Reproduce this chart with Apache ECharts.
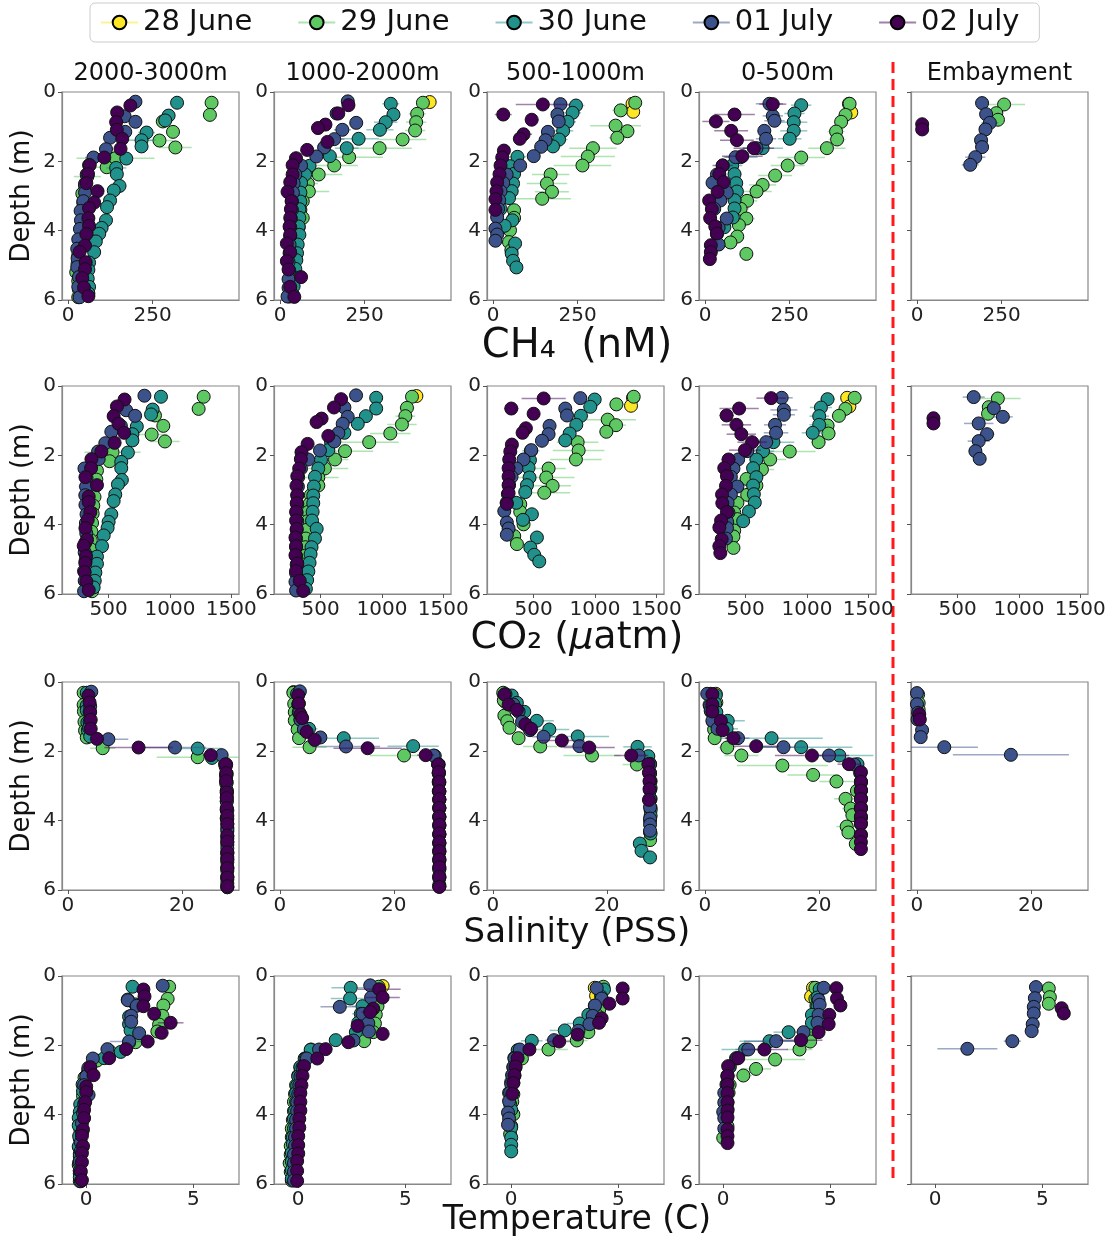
<!DOCTYPE html>
<html>
<head>
<meta charset="utf-8">
<script src="https://cdn.jsdelivr.net/npm/echarts@6/dist/echarts.min.js"></script>
<style>
html, body { margin: 0; padding: 0; background: #fff; }
#chart { width: 1109px; height: 1240px; }
</style>
</head>
<body>
<div id="chart"></div>
<script>
// ---- Labels, dates and ticks ----
const dates = ['28 June', '29 June', '30 June', '01 July', '02 July'];
const dateColors = ['#fde725', '#5ec962', '#21918c', '#3b528b', '#440154'];
const errColors = ['rgba(253,231,37,0.5)', 'rgba(94,201,98,0.5)', 'rgba(33,145,140,0.5)', 'rgba(59,82,139,0.5)', 'rgba(68,1,84,0.5)'];
const siteNames = ['2000-3000m', '1000-2000m', '500-1000m', '0-500m', 'Embayment'];
const depthTicks = [0, 2, 4, 6];
const ch4Ticks = [0, 250];
const co2Ticks = [500, 1000, 1500];
const salTicks = [0, 20];
const tempTicks = [0, 5];

// ---- 2000-3000m ----
const z2000_jun29_depth = [0.31,0.66,0.85,1.15,1.40,1.60,1.91,2.17,2.44,2.70,2.93,3.20,3.45,3.68,3.95,4.20,4.45,4.70,4.95,5.20,5.45,5.70,5.92];
const z2000_jun29_ch4 = [424,419,280,310,270,317,140,114,57,50,42,45,48,42,40,38,37,30,28,24,30,32,30];
const z2000_jun29_ch4Err = [8,20,22,15,40,48,115,30,40,15,12,10,10,10,8,8,8,8,6,6,6,6,6];
const z2000_jun29_co2 = [1275,1234,878,946,851,959,532,508,405,400,380,385,375,370,365,360,355,350,345,350,355,360,365];
const z2000_jun29_co2Err = [20,40,30,30,130,120,230,60,50,30,25,20,20,20,20,15,15,15,15,15,15,15,15];
const z2000_jun29_sal = [2.75,2.75,2.8,2.9,3.0,3.3,6.1,22.8,27.7,27.8,27.8,27.9,27.9,27.9,27.9,28.0,28.0,28.0,28.0,28.0,28.0,28.0,28.0];
const z2000_jun29_salErr = [0.2,0.2,0.2,0.2,0.2,0.3,2.2,7.2,0.5,0.3,0.2,0.2,0.2,0.2,0.2,0.2,0.2,0.2,0.2,0.2,0.2,0.2,0.2];
const z2000_jun29_temp = [3.87,3.8,3.6,3.56,3.4,3.32,2.3,1.1,0.5,0.15,-0.08,-0.1,-0.15,-0.2,-0.22,-0.25,-0.27,-0.3,-0.32,-0.3,-0.35,-0.3,-0.3];
const z2000_jun29_tempErr = [0.1,0.1,0.1,0.1,0.15,0.15,0.2,0.4,0.15,0.1,0.1,0.1,0.1,0.1,0.1,0.1,0.1,0.1,0.1,0.1,0.1,0.1,0.1];

const z2000_jun30_depth = [0.31,0.68,0.82,1.17,1.39,1.57,1.92,2.19,2.37,2.71,2.84,3.13,3.32,3.70,3.92,4.09,4.31,4.62,4.92,5.13,5.38,5.62,5.81];
const z2000_jun30_ch4 = [322,297,287,232,217,217,172,142,144,152,135,124,115,112,99,92,82,77,62,60,58,62,60];
const z2000_jun30_ch4Err = [6,20,22,25,42,20,12,30,10,10,10,10,10,8,8,8,8,8,6,6,6,6,6];
const z2000_jun30_co2 = [927,859,846,730,694,694,657,603,603,608,576,554,541,522,500,492,460,446,405,405,392,387,378];
const z2000_jun30_co2Err = [20,45,30,30,40,30,60,25,20,20,20,20,15,15,15,15,15,15,15,15,15,15,15];
const z2000_jun30_sal = [3.3,3.3,3.3,3.4,3.5,3.9,22.8,25.3,27.6,27.8,27.8,27.9,27.9,27.9,27.9,28.0,28.0,28.0,28.0,28.0,28.0,28.0,28.0];
const z2000_jun30_salErr = [0.2,0.2,0.2,0.2,0.2,0.3,4.2,1.0,0.3,0.2,0.2,0.2,0.2,0.2,0.2,0.2,0.2,0.2,0.2,0.2,0.2,0.2,0.2];
const z2000_jun30_temp = [2.16,1.94,2.3,2.0,2.0,2.07,2.0,1.61,0.84,0.1,0.05,-0.17,-0.15,-0.28,-0.3,-0.35,-0.35,-0.33,-0.35,-0.3,-0.33,-0.3,-0.3];
const z2000_jun30_tempErr = [0.1,0.1,0.1,0.1,0.1,0.1,0.2,0.2,0.1,0.1,0.1,0.1,0.1,0.1,0.1,0.1,0.1,0.1,0.1,0.1,0.1,0.1,0.1];

const z2000_jul01_depth = [0.28,0.70,0.86,1.15,1.32,1.65,1.89,2.11,2.38,2.65,2.90,3.15,3.43,3.70,3.95,4.25,4.52,4.80,5.05,5.34,5.62,5.92];
const z2000_jul01_ch4 = [199,167,199,169,124,112,75,62,55,50,50,45,37,38,35,30,27,28,27,32,30,34];
const z2000_jul01_ch4Err = [6,10,10,10,10,20,25,10,8,8,8,8,6,6,6,6,6,6,6,6,6,6];
const z2000_jul01_co2 = [792,643,716,600,522,473,414,419,303,320,316,310,311,320,315,318,310,305,312,300,305,300];
const z2000_jul01_co2Err = [20,20,20,20,50,40,20,20,20,20,60,20,20,20,20,15,15,15,15,15,15,15];
const z2000_jul01_sal = [4.1,3.9,3.8,3.8,3.7,7.1,18.8,27.0,27.8,27.9,27.9,27.9,27.9,28.0,28.0,28.0,28.0,28.0,28.0,28.0,28.0,28.0];
const z2000_jul01_salErr = [0.2,0.2,0.2,0.2,0.2,3.5,5.5,0.5,0.3,0.2,0.2,0.2,0.2,0.2,0.2,0.2,0.2,0.2,0.2,0.2,0.2,0.2];
const z2000_jul01_temp = [3.57,1.94,2.36,2.1,2.10,2.47,2.0,0.99,0.31,0.1,0.0,-0.1,0.11,-0.1,-0.15,-0.2,-0.2,-0.25,-0.25,-0.3,-0.3,-0.25];
const z2000_jul01_tempErr = [0.1,0.1,0.1,0.1,0.1,0.1,0.9,0.3,0.1,0.1,0.1,0.1,0.1,0.1,0.1,0.1,0.1,0.1,0.1,0.1,0.1,0.1];

const z2000_jul02_depth = [0.39,0.59,0.87,1.09,1.35,1.64,1.89,2.11,2.37,2.63,2.86,3.19,3.35,3.64,3.86,4.10,4.43,4.61,4.91,5.11,5.37,5.64,5.89];
const z2000_jul02_ch4 = [184,145,142,144,160,155,107,64,59,54,87,77,62,60,62,54,50,34,52,50,42,47,60];
const z2000_jul02_ch4Err = [8,8,8,10,12,15,15,10,8,8,15,15,10,8,8,8,8,6,8,8,6,8,10];
const z2000_jul02_co2 = [630,568,541,581,627,549,441,360,357,311,405,338,338,351,330,311,324,297,316,310,305,319,338];
const z2000_jul02_co2Err = [15,15,15,40,25,20,20,20,15,15,30,20,15,15,15,15,15,15,15,15,15,15,20];
const z2000_jul02_sal = [3.6,3.8,3.9,4.0,4.0,5.1,12.4,25.1,27.7,27.8,27.8,27.9,27.9,27.9,28.0,28.0,28.0,28.0,28.0,28.0,28.0,28.0,28.0];
const z2000_jul02_salErr = [0.2,0.2,0.2,0.2,0.2,0.5,6.0,1.0,0.3,0.2,0.2,0.2,0.2,0.2,0.2,0.2,0.2,0.2,0.2,0.2,0.2,0.2,0.2];
const z2000_jul02_temp = [2.67,2.72,2.67,3.17,3.94,3.52,2.87,1.86,1.07,0.19,0.34,0.0,0.0,-0.05,-0.1,-0.1,-0.15,-0.2,-0.15,-0.2,-0.2,-0.25,-0.2];
const z2000_jul02_tempErr = [0.1,0.1,0.1,0.15,0.6,0.3,0.2,0.3,0.2,0.1,0.1,0.1,0.1,0.1,0.1,0.1,0.1,0.1,0.1,0.1,0.1,0.1,0.1];

// ---- 1000-2000m ----
const z1000_jun28_depth = [0.29];
const z1000_jun28_ch4 = [442];
const z1000_jun28_ch4Err = [8];
const z1000_jun28_co2 = [1281];
const z1000_jun28_co2Err = [20];
const z1000_jun28_sal = [2.4];
const z1000_jun28_salErr = [0.2];
const z1000_jun28_temp = [3.94];
const z1000_jun28_tempErr = [0.1];

const z1000_jun29_depth = [0.31,0.63,0.87,1.11,1.37,1.62,1.88,2.12,2.38,2.64,2.87,3.15,3.40,3.63,3.90,4.15,4.40,4.65,4.90,5.15,5.40,5.65,5.90];
const z1000_jun29_ch4 = [422,405,402,399,362,294,204,160,114,82,85,67,60,67,55,50,45,40,38,36,35,30,28];
const z1000_jun29_ch4Err = [10,25,30,30,70,95,100,70,70,30,60,20,15,15,10,10,10,10,8,8,8,8,8];
const z1000_jun29_co2 = [1245,1204,1191,1163,1068,896,699,617,535,481,481,420,410,400,395,385,380,375,370,365,360,360,355];
const z1000_jun29_co2Err = [20,60,80,120,165,240,230,110,190,165,60,30,25,25,20,20,20,20,20,20,20,20,20];
const z1000_jun29_sal = [2.35,2.5,2.6,2.6,3.1,3.35,5.2,21.8,27.8,27.9,27.9,27.9,28.0,28.0,28.0,28.0,28.0,28.0,28.0,28.0,28.0,28.0,28.0];
const z1000_jun29_salErr = [0.2,0.2,0.2,0.2,0.3,0.3,3.0,6.0,0.5,0.2,0.2,0.2,0.2,0.2,0.2,0.2,0.2,0.2,0.2,0.2,0.2,0.2,0.2];
const z1000_jun29_temp = [3.75,3.6,3.7,3.62,3.58,3.5,3.08,0.6,0.3,0.1,0.0,-0.1,-0.15,-0.2,-0.2,-0.25,-0.3,-0.3,-0.35,-0.35,-0.4,-0.35,-0.3];
const z1000_jun29_tempErr = [0.2,0.2,0.2,0.2,0.3,0.3,0.3,0.2,0.1,0.1,0.1,0.1,0.1,0.1,0.1,0.1,0.1,0.1,0.1,0.1,0.1,0.1,0.1];

const z1000_jun30_depth = [0.34,0.65,0.87,1.09,1.35,1.62,1.85,2.13,2.38,2.62,2.90,3.16,3.38,3.63,3.88,4.12,4.40,4.65,4.85,5.10,5.35,5.60,5.85];
const z1000_jun30_ch4 = [327,335,312,295,232,197,147,87,74,62,60,60,57,57,55,57,52,50,48,45,42,40,38];
const z1000_jun30_ch4Err = [25,20,35,40,60,35,20,20,10,10,15,10,10,8,8,8,8,8,8,8,8,8,8];
const z1000_jun30_co2 = [953,953,869,803,694,585,563,503,481,454,445,440,440,435,430,468,454,426,418,410,400,390,380];
const z1000_jun30_co2Err = [20,40,45,40,50,40,30,40,30,20,20,20,15,15,15,15,15,15,15,15,15,15,15];
const z1000_jun30_sal = [3.0,3.2,3.3,3.6,5.1,11.2,23.4,27.2,27.8,27.9,27.9,28.0,28.0,28.0,28.0,28.0,28.0,28.0,28.0,28.0,28.0,28.0,28.0];
const z1000_jun30_salErr = [0.2,0.2,0.3,0.3,1.5,6.2,4.5,0.5,0.3,0.2,0.2,0.2,0.2,0.2,0.2,0.2,0.2,0.2,0.2,0.2,0.2,0.2,0.2];
const z1000_jun30_temp = [2.45,2.42,3.0,2.92,2.8,2.69,1.75,0.58,0.34,0.1,0.0,-0.05,-0.1,-0.1,-0.15,-0.2,-0.2,-0.25,-0.25,-0.3,-0.3,-0.3,-0.3];
const z1000_jun30_tempErr = [0.9,0.9,0.5,0.4,0.3,0.3,0.3,0.2,0.1,0.1,0.1,0.1,0.1,0.1,0.1,0.1,0.1,0.1,0.1,0.1,0.1,0.1,0.1];

const z1000_jul01_depth = [0.27,0.62,0.89,1.09,1.36,1.60,1.86,2.12,2.38,2.63,2.90,3.15,3.40,3.65,3.90,4.15,4.40,4.65,4.90,5.15,5.40,5.65,5.90];
const z1000_jul01_ch4 = [200,167,225,184,160,130,107,62,45,40,38,35,35,32,30,30,28,28,25,27,25,25,22];
const z1000_jul01_ch4Err = [10,12,15,25,30,20,15,10,8,8,8,8,8,8,8,8,8,8,8,8,8,8,8];
const z1000_jul01_co2 = [789,694,721,680,645,612,495,399,340,317,315,310,310,305,310,305,300,300,300,305,300,295,300];
const z1000_jul01_co2Err = [30,30,40,40,40,30,30,20,20,15,15,15,15,15,15,15,15,15,15,15,15,15,15];
const z1000_jul01_sal = [3.5,3.3,3.4,3.6,4.2,7.1,11.6,27.0,27.9,27.9,28.0,28.0,28.0,28.0,28.0,28.0,28.0,28.0,28.0,28.0,28.0,28.0,28.0];
const z1000_jul01_salErr = [0.2,0.2,0.2,0.2,0.3,1.0,6.0,0.5,0.2,0.2,0.2,0.2,0.2,0.2,0.2,0.2,0.2,0.2,0.2,0.2,0.2,0.2,0.2];
const z1000_jul01_temp = [3.36,3.4,1.94,3.0,3.27,3.3,2.58,0.97,0.4,0.2,0.1,0.05,0.0,-0.05,-0.05,-0.1,-0.1,-0.15,-0.15,-0.2,-0.2,-0.2,-0.2];
const z1000_jul01_tempErr = [0.3,0.3,0.9,0.4,0.3,0.3,0.3,0.2,0.1,0.1,0.1,0.1,0.1,0.1,0.1,0.1,0.1,0.1,0.1,0.1,0.1,0.1,0.1];

const z1000_jul02_depth = [0.38,0.62,0.94,1.04,1.44,1.67,1.91,2.11,2.38,2.60,2.88,3.15,3.38,3.63,3.88,4.12,4.37,4.62,4.88,5.12,5.34,5.62,5.91];
const z1000_jul02_ch4 = [202,172,134,112,140,80,47,37,37,30,22,34,32,30,28,30,20,30,20,25,62,30,42];
const z1000_jul02_ch4Err = [10,10,20,20,20,15,12,8,8,8,15,8,8,8,8,8,8,8,10,8,15,8,10];
const z1000_jul02_co2 = [667,609,508,467,563,394,344,339,325,310,303,310,305,300,300,305,295,300,295,310,300,330,358];
const z1000_jul02_co2Err = [30,30,40,35,30,20,20,15,15,15,15,15,15,15,15,15,15,15,15,15,15,15,15];
const z1000_jul02_sal = [3.2,3.3,3.6,3.9,4.7,6.1,15.4,25.6,27.8,27.9,28.0,28.0,28.0,28.0,28.0,28.0,28.0,28.0,28.0,28.0,28.0,28.0,28.0];
const z1000_jul02_salErr = [0.2,0.2,0.3,0.3,0.5,1.0,6.0,1.5,0.3,0.2,0.2,0.2,0.2,0.2,0.2,0.2,0.2,0.2,0.2,0.2,0.2,0.2,0.2];
const z1000_jul02_temp = [3.78,3.94,3.5,3.36,2.77,3.94,2.34,1.28,0.89,0.27,0.2,0.15,0.1,0.1,0.1,0.05,0.05,0.0,0.0,0.0,-0.05,-0.05,-0.05];
const z1000_jul02_tempErr = [1.0,0.8,0.3,0.4,0.3,0.3,0.3,0.3,0.2,0.1,0.1,0.1,0.1,0.1,0.1,0.1,0.1,0.1,0.1,0.1,0.1,0.1,0.1];

// ---- 500-1000m ----
const z500_jun28_depth = [0.34,0.57];
const z500_jun28_ch4 = [412,414];
const z500_jun28_ch4Err = [10,10];
const z500_jun28_co2 = [1310,1294];
const z500_jun28_co2Err = [20,20];
const z500_jun28_sal = [1.9,2.1];
const z500_jun28_salErr = [0.2,0.2];
const z500_jun28_temp = [3.9,3.96];
const z500_jun28_tempErr = [0.1,0.1];

const z500_jun29_depth = [0.31,0.53,0.97,1.13,1.32,1.62,1.86,2.12,2.38,2.64,2.88,3.08,3.41,3.63,3.99,4.33,4.56];
const z500_jun29_ch4 = [420,377,362,397,367,295,280,264,170,159,174,145,62,62,50,47,54];
const z500_jun29_ch4Err = [10,25,75,20,25,70,80,85,55,60,50,85,10,10,10,10,10];
const z500_jun29_co2 = [1316,1175,1104,1172,1093,859,867,845,622,603,655,587,391,391,418,342,364];
const z500_jun29_co2Err = [20,60,230,80,60,170,210,210,140,230,150,210,30,20,20,20,20];
const z500_jun29_sal = [1.8,1.9,2.0,2.5,2.9,4.5,8.3,17.4,25.3,27.5,27.6,27.6,27.6,27.7,27.6,27.6,27.6];
const z500_jun29_salErr = [0.2,0.2,0.2,0.2,0.3,1.0,3.0,5.0,2.5,0.5,0.3,0.3,0.3,0.3,0.3,0.3,0.3];
const z500_jun29_temp = [4.3,4.2,4.11,4.0,3.9,3.6,3.06,1.74,0.5,0.2,0.15,0.1,0.1,0.05,0.1,0.0,-0.05];
const z500_jun29_tempErr = [0.2,0.2,0.2,0.2,0.2,0.3,0.5,0.9,0.3,0.1,0.1,0.1,0.1,0.1,0.1,0.1,0.1];

const z500_jun30_depth = [0.39,0.60,0.86,1.12,1.37,1.57,1.87,2.14,2.36,2.64,2.86,3.06,3.37,3.70,3.86,4.37,4.66,4.87,5.06];
const z500_jun30_ch4 = [245,235,220,207,195,177,72,50,62,59,55,47,22,57,34,65,55,59,69];
const z500_jun30_ch4Err = [25,25,25,30,25,25,25,10,15,10,10,10,8,8,8,8,8,8,8];
const z500_jun30_co2 = [998,962,886,848,794,758,478,470,459,467,446,432,359,486,413,527,473,505,546];
const z500_jun30_co2Err = [40,60,60,50,50,60,70,50,40,40,40,30,30,30,30,40,30,30,20];
const z500_jun30_sal = [3.3,4.2,5.5,7.7,9.9,14.9,25.4,27.3,27.6,27.6,27.7,27.7,27.7,27.7,27.7,27.7,25.8,26.1,27.6];
const z500_jun30_salErr = [0.3,0.4,0.5,3.0,3.5,5.5,2.5,0.5,0.3,0.3,0.3,0.3,0.3,0.3,0.3,0.3,1.0,0.8,0.3];
const z500_jun30_temp = [4.33,4.2,3.9,3.6,3.2,2.5,0.96,0.3,0.15,0.1,0.05,0.0,-0.1,-0.05,0.0,0.0,0.0,0.0,0.0];
const z500_jun30_tempErr = [0.3,0.3,0.3,0.3,0.6,0.7,0.5,0.3,0.1,0.1,0.1,0.1,0.1,0.1,0.1,0.1,0.1,0.1,0.1];

const z500_jul01_depth = [0.35,0.65,0.85,1.15,1.39,1.58,1.85,2.12,2.38,2.62,2.86,3.12,3.37,3.61,3.94,4.11,4.29];
const z500_jul01_ch4 = [199,190,194,162,155,142,120,80,40,30,22,18,15,12,7,12,7];
const z500_jul01_ch4Err = [10,10,15,10,10,15,15,15,10,8,8,8,8,8,8,8,8];
const z500_jul01_co2 = [881,758,772,630,622,568,481,418,360,320,300,290,280,261,282,296,282];
const z500_jul01_co2Err = [40,40,40,40,40,50,50,40,30,20,20,20,20,20,20,20,20];
const z500_jul01_sal = [2.2,3.6,4.5,5.1,6.5,8.9,15.2,25.6,27.6,27.6,27.6,27.6,27.6,27.6,27.6,27.6,27.6];
const z500_jul01_salErr = [0.2,0.3,0.3,0.5,1.0,2.0,3.0,1.5,0.3,0.3,0.3,0.3,0.3,0.3,0.3,0.3,0.3];
const z500_jul01_temp = [3.99,4.22,3.91,3.8,3.65,3.14,2.0,0.4,0.15,0.1,0.05,0.0,-0.05,-0.1,-0.15,-0.1,-0.15];
const z500_jul01_tempErr = [0.2,0.2,0.2,0.2,0.2,0.3,0.4,0.3,0.1,0.1,0.1,0.1,0.1,0.1,0.1,0.1,0.1];

const z500_jul02_depth = [0.36,0.65,0.80,1.22,1.35,1.69,1.89,2.12,2.37,2.61,2.86,3.09,3.40];
const z500_jul02_ch4 = [147,30,114,90,79,32,27,22,19,12,10,7,7];
const z500_jul02_ch4Err = [80,25,20,25,10,10,8,8,8,8,8,8,8];
const z500_jul02_co2 = [582,318,500,437,410,323,310,301,296,296,296,296,282];
const z500_jul02_co2Err = [180,60,50,50,40,20,20,20,20,20,20,20,20];
const z500_jul02_sal = [2.0,2.75,4.2,5.7,6.7,12.1,16.9,24.3,27.3,27.4,27.5,27.5,27.4];
const z500_jul02_salErr = [0.2,0.3,0.3,0.5,1.0,4.0,4.5,3.0,0.3,0.3,0.3,0.3,0.3];
const z500_jul02_temp = [5.2,5.2,4.58,4.22,4.1,3.1,2.24,0.85,0.3,0.2,0.15,0.1,0.05];
const z500_jul02_tempErr = [0.1,0.1,0.1,0.2,0.2,0.3,0.5,0.3,0.1,0.1,0.1,0.1,0.1];

// ---- 0-500m ----
const z0_jun28_depth = [0.34,0.59];
const z0_jun28_ch4 = [425,432];
const z0_jun28_ch4Err = [10,10];
const z0_jun28_co2 = [1328,1346];
const z0_jun28_co2Err = [30,30];
const z0_jun28_sal = [1.9,2.0];
const z0_jun28_salErr = [0.2,0.2];
const z0_jun28_temp = [4.19,4.1];
const z0_jun28_tempErr = [0.1,0.1];

const z0_jun29_depth = [0.34,0.66,0.86,1.14,1.37,1.62,1.89,2.12,2.41,2.68,2.87,3.14,3.37,3.65,3.84,4.17,4.34,4.67];
const z0_jun29_ch4 = [427,415,402,387,390,360,284,244,207,170,152,124,105,122,100,95,75,122];
const z0_jun29_ch4Err = [15,20,20,25,25,55,70,50,50,40,45,30,25,25,20,20,20,15];
const z0_jun29_co2 = [1389,1314,1261,1168,1176,1095,860,700,633,508,588,513,433,407,433,407,401,401];
const z0_jun29_co2Err = [30,50,60,60,60,60,210,130,100,60,50,30,30,30,30,30,20,20];
const z0_jun29_sal = [1.0,0.8,1.1,1.4,1.6,1.7,3.9,6.4,13.6,19.0,23.1,26.7,24.7,25.6,25.9,24.9,25.2,26.5];
const z0_jun29_salErr = [0.3,0.3,0.3,0.3,0.3,0.5,1.5,3.0,8.0,4.5,3.0,1.0,2.0,1.5,1.0,1.8,1.0,1.0];
const z0_jun29_temp = [4.3,4.3,4.35,4.3,4.3,4.3,4.06,3.56,2.42,1.53,0.94,0.3,0.25,0.2,0.2,0.15,0.2,0.0];
const z0_jun29_tempErr = [0.2,0.2,0.2,0.2,0.2,0.2,0.3,0.6,1.4,0.7,0.4,0.2,0.1,0.1,0.1,0.1,0.1,0.1];

const z0_jun30_depth = [0.38,0.62,0.87,1.12,1.35,1.62,1.88,2.12,2.37,2.63,2.87,3.12,3.36,3.62,3.90];
const z0_jun30_ch4 = [284,264,262,262,250,170,105,80,87,92,94,87,87,82,57];
const z0_jun30_ch4Err = [30,30,40,40,35,60,50,30,20,20,20,20,15,15,10];
const z0_jun30_co2 = [1168,1114,1100,1100,1047,727,642,588,561,588,561,567,575,527,480];
const z0_jun30_co2Err = [60,90,80,80,90,170,90,60,50,50,40,40,40,30,30];
const z0_jun30_sal = [1.9,1.8,2.0,4.0,3.8,11.7,16.9,23.6,26.8,27.3,27.4,27.4,27.4,27.4,27.4];
const z0_jun30_salErr = [0.5,0.6,1.0,3.0,2.0,9.0,9.0,6.0,1.0,0.5,0.3,0.3,0.3,0.3,0.3];
const z0_jun30_temp = [4.5,4.4,4.4,4.14,4.14,3.05,2.16,1.02,0.6,0.3,0.2,0.2,0.15,0.1,0.1];
const z0_jun30_tempErr = [0.2,0.2,0.2,0.3,0.3,0.7,1.4,1.1,0.3,0.1,0.1,0.1,0.1,0.1,0.1];

const z0_jul01_depth = [0.34,0.69,0.83,1.12,1.35,1.62,1.88,2.12,2.38,2.62,2.90,3.13,3.37,3.65,3.92,4.10,4.40];
const z0_jul01_ch4 = [190,200,205,175,180,152,90,52,35,22,64,45,27,64,40,35,40];
const z0_jul01_ch4Err = [40,30,30,20,30,40,30,15,10,8,10,8,8,10,8,8,8];
const z0_jul01_co2 = [794,812,812,740,748,668,513,439,401,380,433,380,353,360,350,348,340];
const z0_jul01_co2Err = [90,110,90,90,100,70,60,40,30,20,20,20,20,20,20,20,20];
const z0_jul01_sal = [0.4,0.9,1.0,1.3,2.2,5.8,13.8,21.8,26.2,27.3,27.4,27.4,27.4,27.4,27.4,27.4,27.4];
const z0_jul01_salErr = [0.3,0.3,0.3,0.3,0.5,2.0,4.0,3.0,1.5,0.5,0.3,0.3,0.3,0.3,0.3,0.3,0.3];
const z0_jul01_temp = [4.69,4.45,4.5,4.45,4.4,3.75,2.47,1.17,0.63,0.3,0.2,0.15,0.05,0.05,0.0,0.05,0.05];
const z0_jul01_tempErr = [0.2,0.2,0.2,0.2,0.2,0.3,1.5,0.6,0.3,0.1,0.1,0.1,0.1,0.1,0.1,0.1,0.1];

const z0_jul02_depth = [0.35,0.65,0.85,1.12,1.39,1.62,1.85,2.12,2.37,2.60,2.88,3.13,3.38,3.64,3.88,4.08,4.42,4.62,4.82];
const z0_jul02_ch4 = [200,87,32,77,94,144,110,52,42,55,37,12,20,15,30,35,17,17,14];
const z0_jul02_ch4Err = [40,60,40,50,50,60,60,30,20,15,10,8,8,8,8,8,8,8,8];
const z0_jul02_co2 = [708,447,345,425,465,553,495,361,326,348,340,308,310,348,300,286,305,286,294];
const z0_jul02_co2Err = [120,160,60,120,120,120,130,60,40,30,20,20,20,20,20,20,20,20,20];
const z0_jul02_sal = [1.3,1.3,1.3,2.8,3.1,5.0,9.0,18.8,25.3,27.4,27.4,27.4,27.4,27.4,27.4,27.4,27.4,27.4,27.4];
const z0_jul02_salErr = [0.3,0.3,0.3,0.5,0.5,1.5,4.0,6.5,2.0,0.5,0.3,0.3,0.3,0.3,0.3,0.3,0.3,0.3,0.3];
const z0_jul02_temp = [5.28,5.31,5.47,4.95,4.92,4.45,3.63,1.92,0.7,0.23,0.2,0.2,0.2,0.2,0.2,0.2,0.2,0.2,0.2];
const z0_jul02_tempErr = [0.1,0.1,0.1,0.15,0.2,0.3,1.0,1.1,0.3,0.1,0.1,0.1,0.1,0.1,0.1,0.1,0.1,0.1,0.1];

// ---- Embayment ----
const emb_jun29_depth = [0.36,0.61,0.80];
const emb_jun29_ch4 = [257,234,239];
const emb_jun29_ch4Err = [62,10,10];
const emb_jun29_co2 = [828,754,748];
const emb_jun29_co2Err = [185,40,30];
const emb_jun29_sal = [0.2,0.3,0.3];
const emb_jun29_salErr = [0.1,0.1,0.1];
const emb_jun29_temp = [5.3,5.35,5.3];
const emb_jun29_tempErr = [0.1,0.1,0.1];

const emb_jul01_depth = [0.32,0.64,0.89,1.08,1.39,1.59,1.88,2.10];
const emb_jul01_ch4 = [192,204,215,202,189,192,172,157];
const emb_jul01_ch4Err = [5,10,25,10,5,8,30,25];
const emb_jul01_co2 = [631,795,869,672,740,672,645,680];
const emb_jul01_co2Err = [90,60,80,120,60,90,50,50];
const emb_jul01_sal = [0.0,0.0,0.2,0.1,0.9,0.65,4.8,16.5];
const emb_jul01_salErr = [0.1,0.1,0.1,0.1,0.2,0.8,5.9,10.2];
const emb_jul01_temp = [4.7,4.65,4.6,4.6,4.55,4.5,3.6,1.5];
const emb_jul01_tempErr = [0.1,0.1,0.1,0.1,0.1,0.1,0.4,1.4];

const emb_jul02_depth = [0.93,1.08];
const emb_jul02_ch4 = [15,15];
const emb_jul02_ch4Err = [3,3];
const emb_jul02_co2 = [303,303];
const emb_jul02_co2Err = [10,10];
const emb_jul02_sal = [0.4,0.5];
const emb_jul02_salErr = [0.1,0.1];
const emb_jul02_temp = [5.9,6.0];
const emb_jul02_tempErr = [0.1,0.1];

// ---- Profile registry (site index, date index -> named arrays) ----
function profile(site, date, depth, ch4, ch4Err, co2, co2Err, sal, salErr, temp, tempErr) {
  return { site, date, depth, ch4, ch4Err, co2, co2Err, sal, salErr, temp, tempErr };
}
const profiles = [
  profile(0, 1, z2000_jun29_depth, z2000_jun29_ch4, z2000_jun29_ch4Err, z2000_jun29_co2, z2000_jun29_co2Err, z2000_jun29_sal, z2000_jun29_salErr, z2000_jun29_temp, z2000_jun29_tempErr),
  profile(0, 2, z2000_jun30_depth, z2000_jun30_ch4, z2000_jun30_ch4Err, z2000_jun30_co2, z2000_jun30_co2Err, z2000_jun30_sal, z2000_jun30_salErr, z2000_jun30_temp, z2000_jun30_tempErr),
  profile(0, 3, z2000_jul01_depth, z2000_jul01_ch4, z2000_jul01_ch4Err, z2000_jul01_co2, z2000_jul01_co2Err, z2000_jul01_sal, z2000_jul01_salErr, z2000_jul01_temp, z2000_jul01_tempErr),
  profile(0, 4, z2000_jul02_depth, z2000_jul02_ch4, z2000_jul02_ch4Err, z2000_jul02_co2, z2000_jul02_co2Err, z2000_jul02_sal, z2000_jul02_salErr, z2000_jul02_temp, z2000_jul02_tempErr),
  profile(1, 0, z1000_jun28_depth, z1000_jun28_ch4, z1000_jun28_ch4Err, z1000_jun28_co2, z1000_jun28_co2Err, z1000_jun28_sal, z1000_jun28_salErr, z1000_jun28_temp, z1000_jun28_tempErr),
  profile(1, 1, z1000_jun29_depth, z1000_jun29_ch4, z1000_jun29_ch4Err, z1000_jun29_co2, z1000_jun29_co2Err, z1000_jun29_sal, z1000_jun29_salErr, z1000_jun29_temp, z1000_jun29_tempErr),
  profile(1, 2, z1000_jun30_depth, z1000_jun30_ch4, z1000_jun30_ch4Err, z1000_jun30_co2, z1000_jun30_co2Err, z1000_jun30_sal, z1000_jun30_salErr, z1000_jun30_temp, z1000_jun30_tempErr),
  profile(1, 3, z1000_jul01_depth, z1000_jul01_ch4, z1000_jul01_ch4Err, z1000_jul01_co2, z1000_jul01_co2Err, z1000_jul01_sal, z1000_jul01_salErr, z1000_jul01_temp, z1000_jul01_tempErr),
  profile(1, 4, z1000_jul02_depth, z1000_jul02_ch4, z1000_jul02_ch4Err, z1000_jul02_co2, z1000_jul02_co2Err, z1000_jul02_sal, z1000_jul02_salErr, z1000_jul02_temp, z1000_jul02_tempErr),
  profile(2, 0, z500_jun28_depth, z500_jun28_ch4, z500_jun28_ch4Err, z500_jun28_co2, z500_jun28_co2Err, z500_jun28_sal, z500_jun28_salErr, z500_jun28_temp, z500_jun28_tempErr),
  profile(2, 1, z500_jun29_depth, z500_jun29_ch4, z500_jun29_ch4Err, z500_jun29_co2, z500_jun29_co2Err, z500_jun29_sal, z500_jun29_salErr, z500_jun29_temp, z500_jun29_tempErr),
  profile(2, 2, z500_jun30_depth, z500_jun30_ch4, z500_jun30_ch4Err, z500_jun30_co2, z500_jun30_co2Err, z500_jun30_sal, z500_jun30_salErr, z500_jun30_temp, z500_jun30_tempErr),
  profile(2, 3, z500_jul01_depth, z500_jul01_ch4, z500_jul01_ch4Err, z500_jul01_co2, z500_jul01_co2Err, z500_jul01_sal, z500_jul01_salErr, z500_jul01_temp, z500_jul01_tempErr),
  profile(2, 4, z500_jul02_depth, z500_jul02_ch4, z500_jul02_ch4Err, z500_jul02_co2, z500_jul02_co2Err, z500_jul02_sal, z500_jul02_salErr, z500_jul02_temp, z500_jul02_tempErr),
  profile(3, 0, z0_jun28_depth, z0_jun28_ch4, z0_jun28_ch4Err, z0_jun28_co2, z0_jun28_co2Err, z0_jun28_sal, z0_jun28_salErr, z0_jun28_temp, z0_jun28_tempErr),
  profile(3, 1, z0_jun29_depth, z0_jun29_ch4, z0_jun29_ch4Err, z0_jun29_co2, z0_jun29_co2Err, z0_jun29_sal, z0_jun29_salErr, z0_jun29_temp, z0_jun29_tempErr),
  profile(3, 2, z0_jun30_depth, z0_jun30_ch4, z0_jun30_ch4Err, z0_jun30_co2, z0_jun30_co2Err, z0_jun30_sal, z0_jun30_salErr, z0_jun30_temp, z0_jun30_tempErr),
  profile(3, 3, z0_jul01_depth, z0_jul01_ch4, z0_jul01_ch4Err, z0_jul01_co2, z0_jul01_co2Err, z0_jul01_sal, z0_jul01_salErr, z0_jul01_temp, z0_jul01_tempErr),
  profile(3, 4, z0_jul02_depth, z0_jul02_ch4, z0_jul02_ch4Err, z0_jul02_co2, z0_jul02_co2Err, z0_jul02_sal, z0_jul02_salErr, z0_jul02_temp, z0_jul02_tempErr),
  profile(4, 1, emb_jun29_depth, emb_jun29_ch4, emb_jun29_ch4Err, emb_jun29_co2, emb_jun29_co2Err, emb_jun29_sal, emb_jun29_salErr, emb_jun29_temp, emb_jun29_tempErr),
  profile(4, 3, emb_jul01_depth, emb_jul01_ch4, emb_jul01_ch4Err, emb_jul01_co2, emb_jul01_co2Err, emb_jul01_sal, emb_jul01_salErr, emb_jul01_temp, emb_jul01_tempErr),
  profile(4, 4, emb_jul02_depth, emb_jul02_ch4, emb_jul02_ch4Err, emb_jul02_co2, emb_jul02_co2Err, emb_jul02_sal, emb_jul02_salErr, emb_jul02_temp, emb_jul02_tempErr)
];

// ---- Layout ----
const FONT = 'DejaVu Sans';
const colLeft = [62, 274, 487, 699, 911];
const rowTop = [92, 386, 682, 976];
const panelW = 177;
const panelH = 208;
const panelRows = [
  { key: 'ch4', min: -18, max: 505, ticks: ch4Ticks },
  { key: 'co2', min: 120, max: 1563, ticks: co2Ticks },
  { key: 'sal', min: -1.05, max: 30.05, ticks: salTicks },
  { key: 'temp', min: -1.13, max: 7.13, ticks: tempTicks }
];
const plainNumber = v => String(v);

const grid = [], xAxis = [], yAxis = [];
panelRows.forEach((row, r) => {
  for (let c = 0; c < 5; c++) {
    grid.push({ left: colLeft[c], top: rowTop[r], width: panelW, height: panelH, show: true, borderColor: '#888', borderWidth: 1.2, backgroundColor: '#fff' });
    const gi = grid.length - 1;
    xAxis.push({
      type: 'value', gridIndex: gi, min: row.min, max: row.max,
      axisLine: { show: true, onZero: false, lineStyle: { color: '#888', width: 1.2 } },
      axisTick: { show: true, length: 4, lineStyle: { color: '#555' }, customValues: row.ticks },
      axisLabel: { fontSize: 20, fontFamily: FONT, color: '#222', margin: 6, customValues: row.ticks, formatter: plainNumber },
      splitLine: { show: false }
    });
    // the embayment column shares the depth scale, so its labels are left off
    yAxis.push({
      type: 'value', gridIndex: gi, min: 0, max: 6, interval: 2, inverse: true,
      axisLine: { show: true, onZero: false, lineStyle: { color: '#888', width: 1.2 } },
      axisTick: { show: true, length: 4, lineStyle: { color: '#555' }, customValues: depthTicks },
      axisLabel: { show: c < 4, fontSize: 20, fontFamily: FONT, color: '#222', margin: 6, customValues: depthTicks, formatter: plainNumber },
      splitLine: { show: false }
    });
  }
});

// ---- Series ----
const series = [];
// Legend entries: line + marker icons
dates.forEach((name, di) => {
  series.push({
    type: 'line', name, data: [], xAxisIndex: 0, yAxisIndex: 0,
    symbol: 'circle', symbolSize: 13, silent: true,
    itemStyle: { color: dateColors[di], borderColor: '#000', borderWidth: 1 },
    lineStyle: { color: errColors[di], width: 1.5 }
  });
});

const ordered = profiles.slice().sort((a, b) => a.date - b.date);
ordered.forEach(p => {
  panelRows.forEach((row, r) => {
    const gi = r * 5 + p.site;
    const vals = p[row.key];
    const errs = p[row.key + 'Err'];
    const pts = p.depth.map((d, k) => [vals[k], d, errs[k]]);
    const stroke = errColors[p.date];
    series.push({
      type: 'custom', name: dates[p.date] + ' error ' + row.key + ' ' + siteNames[p.site],
      xAxisIndex: gi, yAxisIndex: gi, z: 2 + p.date * 2, clip: true, silent: true,
      encode: { x: 0, y: 1 },
      data: pts,
      renderItem: (params, api) => {
        const x = api.value(0), y = api.value(1), e = api.value(2);
        const a = api.coord([x - e, y]);
        const b = api.coord([x + e, y]);
        return { type: 'line', shape: { x1: a[0], y1: a[1], x2: b[0], y2: b[1] }, style: { stroke, lineWidth: 1.5 } };
      }
    });
    series.push({
      type: 'scatter', name: dates[p.date] + ' ' + row.key + ' ' + siteNames[p.site],
      xAxisIndex: gi, yAxisIndex: gi, z: 3 + p.date * 2, silent: true,
      symbol: 'circle', symbolSize: 13,
      itemStyle: { color: dateColors[p.date], borderColor: '#111', borderWidth: 1, opacity: 1 },
      data: pts.map(q => [q[0], q[1]])
    });
  });
});

// ---- Text and divider ----
const graphic = [];
siteNames.forEach((name, c) => {
  graphic.push({ type: 'text', x: colLeft[c] + panelW / 2, y: 74,
    style: { text: name, fontSize: 24, fontFamily: FONT, fill: '#111', textAlign: 'center', textVerticalAlign: 'middle', align: 'center', verticalAlign: 'middle' } });
});
rowTop.forEach(t => {
  graphic.push({ type: 'text', x: 22, y: t + panelH / 2, rotation: Math.PI / 2,
    style: { text: 'Depth (m)', fontSize: 26, fontFamily: FONT, fill: '#111', textAlign: 'center', textVerticalAlign: 'middle', align: 'center', verticalAlign: 'middle' } });
});
const xTitles = [
  { text: 'CH₄  (nM)', y: 347, size: 40 },
  { text: '{a|CO₂ (}{b|μ}{a|atm)}', y: 638, size: 38, rich: true },
  { text: 'Salinity (PSS)', y: 933, size: 34 },
  { text: 'Temperature (C)', y: 1220, size: 33 }
];
xTitles.forEach(t => {
  const style = { text: t.text, fontSize: t.size, fontFamily: FONT, fill: '#111', textAlign: 'center', textVerticalAlign: 'middle', align: 'center', verticalAlign: 'middle' };
  if (t.rich) {
    style.rich = {
      a: { fontSize: t.size, fontFamily: FONT, fill: '#111' },
      b: { fontSize: t.size, fontFamily: FONT, fontStyle: 'italic', fill: '#111' }
    };
  }
  graphic.push({ type: 'text', x: 577, y: t.y, style });
});
graphic.push({ type: 'line', shape: { x1: 893, y1: 62, x2: 893, y2: 1180 },
  style: { stroke: '#ff1a1a', lineWidth: 3, lineDash: [11, 6] } });

const chart = echarts.init(document.getElementById('chart'), null, { renderer: 'canvas' });
chart.setOption({
  animation: false,
  backgroundColor: '#fff',
  legend: {
    data: dates, left: 90, top: 3, orient: 'horizontal',
    itemWidth: 37, itemHeight: 17, itemGap: 45,
    padding: [5, 20, 5, 10],
    borderColor: '#ccc', borderWidth: 1, borderRadius: 5, backgroundColor: '#fff',
    selectedMode: false,
    textStyle: { fontSize: 29, fontFamily: FONT, color: '#111' }
  },
  grid, xAxis, yAxis, series, graphic
});
</script>
</body>
</html>
